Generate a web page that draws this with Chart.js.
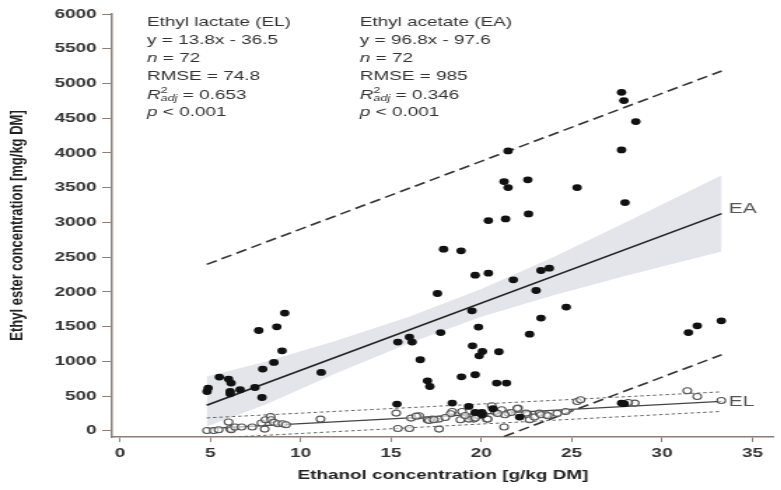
<!DOCTYPE html>
<html lang="en">
<head>
    <meta charset="UTF-8">
    <title>Ethyl ester vs ethanol</title>
    <script src="https://cdn.jsdelivr.net/npm/chart.js"></script>
    <style>
        html, body { margin: 0; padding: 0; background: #fff; overflow: hidden; }
        /* the source figure is stretched sideways: draw narrow, then widen */
        #wrap { width: 558px; height: 490px; transform: scaleX(1.4); transform-origin: 0 0; }
    </style>
</head>
<body>
<div id="wrap"><canvas id="esterChart"></canvas></div>
<script>
    // Ethyl acetate (filled dots)
    const eaX = [4.82, 4.88, 5.50, 6.01, 6.15, 6.10, 6.10, 6.65, 7.47, 7.86, 7.90, 8.52, 8.97, 7.68, 8.68, 9.12, 11.14,
        21.48, 21.26, 21.48, 22.57, 20.39, 21.34, 22.61, 17.91, 18.88, 19.66, 20.39, 21.77, 23.30, 23.76, 23.03, 17.57,
        19.48, 24.70, 23.30, 15.38, 16.02, 16.17, 17.75, 19.84, 22.67, 16.62, 19.51, 20.06, 19.88, 20.97, 17.02, 17.15,
        18.90, 19.66, 20.85, 21.39, 15.33, 18.39, 19.30, 27.76, 27.89, 28.55, 27.76, 25.30, 27.95, 31.46, 31.95, 33.28,
        27.76, 19.66, 20.03, 20.64, 22.12, 20.05, 27.90];
    const eaY = [565, 614, 773, 744, 686, 565, 532, 590, 623, 479, 888, 983, 1151, 1443, 1496, 1694, 839,
        4029, 3587, 3501, 3612, 3026, 3050, 3122, 2614, 2590, 2240, 2269, 2173, 2307, 2341, 2019, 1976,
        1727, 1780, 1622, 1276, 1348, 1276, 1414, 1492, 1391, 1022, 1223, 1141, 1079, 1137, 719, 637,
        777, 806, 686, 686, 384, 399, 350, 4873, 4753, 4451, 4043, 3501, 3285, 1414, 1511, 1583,
        399, 263, 263, 317, 197, 230, 390];

    // Ethyl lactate (open circles)
    const elX = [4.82, 5.19, 5.46, 6.01, 6.10, 6.15, 6.37, 6.73, 7.32, 7.83, 8.05, 8.34, 8.37, 8.52, 8.74, 9.01, 9.19, 8.01,
        11.10, 15.29, 15.38, 16.02, 16.11, 16.56, 17.02, 17.30, 17.66, 17.66, 17.11, 18.39, 18.84, 18.93, 19.39, 19.57,
        19.84, 20.11, 20.30, 20.57, 20.75, 21.12, 21.26, 21.48, 21.66, 22.03, 22.57, 22.67, 22.94, 23.21, 23.58, 24.67,
        25.30, 25.49, 28.49, 28.13, 31.40, 31.95, 33.28, 18.30, 19.30, 19.66, 20.35, 21.30, 21.99, 22.48, 23.30, 23.67,
        24.20, 16.40, 17.38, 18.00, 19.10, 20.90];
    const elY = [4, 4, 14, 125, 33, 14, 53, 53, 53, 111, 158, 206, 158, 120, 101, 101, 86, 24,
        168, 254, 33, 33, 182, 216, 158, 168, 168, 24, 148, 278, 158, 278, 197, 168,
        216, 230, 168, 360, 278, 302, 53, 254, 263, 326, 230, 158, 197, 254, 230, 278,
        422, 446, 398, 407, 576, 494, 436, 245, 168, 182, 168, 230, 320, 254, 230, 215,
        250, 210, 158, 190, 220, 250];

    // fitted lines and intervals at both ends
    const fitX = [4.8, 33.3];
    const eaFitY = [367, 3126];
    const eaUpperY = [2395, 5180];
    const eaLowerY = [-1690, 1094];
    const elFitY = [30, 423];
    const elUpperY = [185, 560];
    const elLowerY = [-110, 278];

    // confidence band around the EA fit
    const bandX = [4.8, 8, 12, 16, 20, 24, 28, 33.3];
    const bandUpper = [780, 990, 1300, 1640, 2040, 2500, 3000, 3680];
    const bandLower = [60, 370, 830, 1260, 1640, 1950, 2230, 2580];

    const xTicks = [0, 5, 10, 15, 20, 25, 30, 35];
    const yTicks = [0, 500, 1000, 1500, 2000, 2500, 3000, 3500, 4000, 4500, 5000, 5500, 6000];

    const notes = [
        { left: 105, title: 'Ethyl lactate (EL)', eq: 'y = 13.8x - 36.5', n: '72', rmse: '74.8', r2: '0.653', p: '0.001' },
        { left: 257, title: 'Ethyl acetate (EA)', eq: 'y = 96.8x - 97.6', n: '72', rmse: '985', r2: '0.346', p: '0.001' }
    ];

    const FONT = "'Liberation Sans', Arial, sans-serif";
    const pts = (xs, ys) => xs.map((v, i) => ({ x: v, y: ys[i] }));

    function drawParts(ctx, x, y, parts) {
        parts.forEach(p => {
            ctx.font = (p.italic ? 'italic ' : '') + p.size + 'px ' + FONT;
            ctx.fillText(p.t, x, y + (p.dy || 0));
            if (p.advance !== false) x += ctx.measureText(p.t).width;
        });
    }

    const notePlugin = {
        id: 'notes',
        afterDraw(chart) {
            const ctx = chart.ctx;
            const sx = chart.scales.x, sy = chart.scales.y;
            ctx.save();
            ctx.fillStyle = '#333';
            ctx.textBaseline = 'middle';
            const rows = [22, 40, 58, 76, 95, 112];
            const fs = 13.5;
            notes.forEach(b => {
                drawParts(ctx, b.left, rows[0], [{ t: b.title, size: fs }]);
                drawParts(ctx, b.left, rows[1], [{ t: b.eq, size: fs }]);
                drawParts(ctx, b.left, rows[2], [{ t: 'n', size: fs, italic: true }, { t: ' = ' + b.n, size: fs }]);
                drawParts(ctx, b.left, rows[3], [{ t: 'RMSE = ' + b.rmse, size: fs }]);
                drawParts(ctx, b.left, rows[4], [
                    { t: 'R', size: fs, italic: true },
                    { t: '2', size: 9, dy: -4, advance: false },
                    { t: 'adj', size: 9, italic: true, dy: 3 },
                    { t: ' = ' + b.r2, size: fs }
                ]);
                drawParts(ctx, b.left, rows[5], [{ t: 'p', size: fs, italic: true }, { t: ' < ' + b.p, size: fs }]);
            });
            // line labels at the right end of each fit
            ctx.fillStyle = '#555';
            ctx.font = '15px ' + FONT;
            ctx.fillText('EA', sx.getPixelForValue(fitX[1]) + 5, sy.getPixelForValue(eaFitY[1]) - 5);
            ctx.fillText('EL', sx.getPixelForValue(fitX[1]) + 5, sy.getPixelForValue(elFitY[1]));
            ctx.restore();
        }
    };

    const ctx = document.getElementById('esterChart').getContext('2d');
    new Chart(ctx, {
        type: 'scatter',
        data: {
            datasets: [
                {
                    // upper edge of band, filled down to the next dataset
                    data: pts(bandX, bandUpper), showLine: true, pointRadius: 0, borderWidth: 0,
                    borderColor: 'rgba(0,0,0,0)', backgroundColor: 'rgba(188,194,208,0.42)', fill: '+1', order: 10
                },
                {
                    data: pts(bandX, bandLower), showLine: true, pointRadius: 0, borderWidth: 0,
                    borderColor: 'rgba(0,0,0,0)', fill: false, order: 10
                },
                {
                    data: pts(fitX, eaFitY), showLine: true, pointRadius: 0, borderColor: '#222', borderWidth: 1.6, order: 5
                },
                {
                    data: pts(fitX, eaUpperY), showLine: true, pointRadius: 0, borderColor: '#3a3330', borderWidth: 1.6,
                    borderDash: [8, 4], order: 5
                },
                {
                    data: pts(fitX, eaLowerY), showLine: true, pointRadius: 0, borderColor: '#3a3330', borderWidth: 1.6,
                    borderDash: [8, 4], order: 5
                },
                {
                    data: pts(fitX, elFitY), showLine: true, pointRadius: 0, borderColor: '#444', borderWidth: 1.3, order: 5
                },
                {
                    data: pts(fitX, elUpperY), showLine: true, pointRadius: 0, borderColor: '#666', borderWidth: 1,
                    borderDash: [2.5, 2], order: 5
                },
                {
                    data: pts(fitX, elLowerY), showLine: true, pointRadius: 0, borderColor: '#666', borderWidth: 1,
                    borderDash: [2.5, 2], order: 5
                },
                {
                    label: 'Ethyl lactate', data: pts(elX, elY), pointRadius: 3, borderWidth: 1.1,
                    borderColor: '#555', backgroundColor: 'rgba(255,255,255,0.6)', order: 2
                },
                {
                    label: 'Ethyl acetate', data: pts(eaX, eaY), pointRadius: 3.4, borderWidth: 0,
                    backgroundColor: '#111', order: 1
                }
            ]
        },
        options: {
            responsive: true,
            maintainAspectRatio: false,
            animation: false,
            layout: { padding: { top: 14, right: 0, bottom: 0, left: 0 } },
            plugins: { legend: { display: false }, tooltip: { enabled: false } },
            scales: {
                x: {
                    type: 'linear', min: -0.44, max: 36.2,
                    afterBuildTicks: s => { s.ticks = xTicks.map(v => ({ value: v })); },
                    afterFit: s => { s.height = 53; },
                    ticks: { font: { family: FONT, size: 13.5, weight: 'bold' }, color: '#333', padding: 3, callback: v => String(v) },
                    grid: { drawOnChartArea: false, tickLength: 5, color: '#8a8079' },
                    border: { color: '#8a8079', width: 1.5 },
                    title: {
                        display: true, text: 'Ethanol concentration [g/kg DM]', color: '#222',
                        font: { family: FONT, size: 13.5, weight: 'bold' }, padding: { top: 0, bottom: 7 }
                    }
                },
                y: {
                    type: 'linear', min: -90, max: 6000,
                    afterBuildTicks: s => { s.ticks = yTicks.map(v => ({ value: v })); },
                    afterFit: s => { s.width = 80; },
                    ticks: { font: { family: FONT, size: 13.5, weight: 'bold' }, color: '#333', padding: 4, callback: v => String(v) },
                    grid: { drawOnChartArea: false, tickLength: 7, color: '#8a8079' },
                    border: { color: '#8a8079', width: 1.5 },
                    title: {
                        display: true, text: 'Ethyl ester concentration [mg/kg DM]', color: '#222',
                        font: { family: FONT, size: 13, weight: 'bold' }, padding: { top: 5, bottom: 0 }
                    }
                }
            }
        },
        plugins: [notePlugin]
    });
</script>
</body>
</html>
